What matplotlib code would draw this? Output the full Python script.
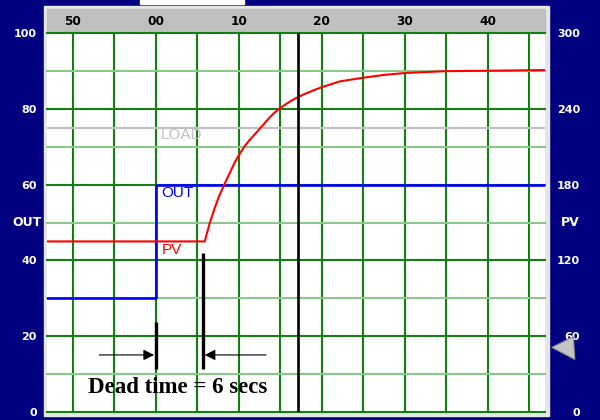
# Resposta ao degrau com tempo morto (tela de controlador)

import matplotlib
matplotlib.use("Agg")
import matplotlib.pyplot as plt
from matplotlib.patches import Rectangle, Polygon
from matplotlib.transforms import blended_transform_factory

# -----------------------------
# Dados
# -----------------------------

tempo_ticks = [-10, 0, 10, 20, 30, 40]
tempo_labels = ["50", "00", "10", "20", "30", "40"]

esq_ticks = [0, 20, 40, 60, 80, 100]
dir_ticks = [0, 60, 120, 180, 240, 300]

out_t = [-14, 0, 0, 47]
out_v = [30, 30, 60, 60]

pv_t = [-14, 5.9, 6.5, 7.1, 7.7, 8.3, 8.9, 9.5, 10.1, 10.7, 11.3, 11.9,
        12.5, 13.1, 13.7, 14.3, 14.9, 15.7, 16.5, 17.2, 18.2, 19.2, 20.2,
        21.2, 22.2, 25.1, 27.5, 30, 35, 40, 47]
pv_v = [45, 45, 49.8, 53.8, 57.3, 60.2, 63.0, 65.8, 68.1, 70.1, 71.8, 73.2,
        74.7, 76.2, 77.7, 79.0, 80.1, 81.3, 82.4, 83.2, 84.2, 85.1, 85.9,
        86.6, 87.3, 88.3, 89.0, 89.5, 90.0, 90.1, 90.3]

load_nivel = 75
cursor_t = 17.1
sp_pv = 51

morto_inicio = 0
morto_fim = 5.7

AZUL_ESCURO = "#000080"
VERDE = "#108010"
VERDE_CLARO = "#8cc88c"
CINZA = "#c0c0c0"


def fx(x):
    return x / 600


def fy(y):
    return 1 - y / 420


fig = plt.figure(figsize=(6, 4.2), dpi=100, facecolor=AZUL_ESCURO)

# moldura clara, faixa cinza do topo e marca branca
fig.add_artist(Rectangle((fx(44), fy(416)), fx(549) - fx(44), fy(6) - fy(416),
                         transform=fig.transFigure, color="#e6e6e6", zorder=-2))
fig.add_artist(Rectangle((fx(47), fy(33.3)), fx(545) - fx(47), fy(9) - fy(33.3),
                         transform=fig.transFigure, color=CINZA, zorder=-1))
fig.add_artist(Rectangle((fx(140), fy(4)), fx(244) - fx(140), fy(0) - fy(4),
                         transform=fig.transFigure, color="white", zorder=-1))

ax = fig.add_axes([fx(47), fy(411.7), fx(545) - fx(47), fy(33.3) - fy(411.7)])
ax.set_facecolor("white")
ax.set_xlim(-13.1, 46.9)
ax.set_ylim(0, 100)
for s in ax.spines.values():
    s.set_visible(False)

# -----------------------------
# Grade
# -----------------------------

for t in range(-10, 50, 5):
    ax.axvline(t, color=VERDE, lw=1.5, zorder=1)
for v in range(0, 101, 10):
    cor = VERDE if v % 20 == 0 else VERDE_CLARO
    ax.axhline(v, color=cor, lw=1.5, zorder=1, clip_on=False)

# -----------------------------
# Curvas
# -----------------------------

ax.axhline(load_nivel, color=CINZA, lw=1.6, zorder=2)
ax.plot(out_t, out_v, color="#0000ff", lw=1.9, zorder=3)
ax.plot(pv_t, pv_v, color="#ff0000", lw=1.5, zorder=4)
ax.axvline(cursor_t, color="black", lw=1.9, zorder=6)

ax.text(0.6, 73.1, "LOAD", color=CINZA, fontsize=11, family="Liberation Sans",
        va="center", ha="left", zorder=5)
ax.text(0.7, 57.9, "OUT", color="#0000ff", fontsize=11, family="Liberation Sans",
        va="center", ha="left", zorder=5)
ax.text(0.7, 42.7, "PV", color="#ff0000", fontsize=11, family="Liberation Sans",
        va="center", ha="left", zorder=5)

# -----------------------------
# Tempo morto
# -----------------------------

ax.vlines([morto_inicio], 11.2, 23.8, color="black", lw=2.4, zorder=7)
ax.vlines([morto_fim], 11.2, 42.0, color="black", lw=2.4, zorder=7)

seta = dict(arrowstyle="-|>", color="black", lw=0.8, mutation_scale=16,
            shrinkA=0, shrinkB=0)
ax.annotate("", xy=(morto_inicio - 0.2, 15), xytext=(-6.8, 15),
            arrowprops=seta, zorder=7)
ax.annotate("", xy=(morto_fim + 0.2, 15), xytext=(13.3, 15),
            arrowprops=seta, zorder=7)

ax.text(2.6, 6.3, "Dead time = 6 secs", fontsize=16.5, fontweight="bold",
        family="Liberation Serif", ha="center", va="center", zorder=8)

# -----------------------------
# Eixos
# -----------------------------

ax2 = ax.twinx()
ax2.set_ylim(0, 300)
for s in ax2.spines.values():
    s.set_visible(False)

ax.xaxis.tick_top()
ax.set_xticks(tempo_ticks, tempo_labels)
ax.tick_params(axis="x", length=0, pad=4, labelsize=8.7, labelcolor="black")
for lbl in ax.get_xticklabels():
    lbl.set_fontweight("bold")

ax.set_yticks(esq_ticks, [str(v) for v in esq_ticks])
ax.tick_params(axis="y", length=0, pad=7.2, labelsize=8, labelcolor="white")
for lbl in ax.get_yticklabels():
    lbl.set_fontweight("bold")

ax2.set_yticks(dir_ticks, [str(v) for v in dir_ticks])
ax2.tick_params(axis="y", length=0, pad=25.2, labelsize=8, labelcolor="white")
for lbl in ax2.get_yticklabels():
    lbl.set_fontweight("bold")
    lbl.set_horizontalalignment("right")

trans_esq = blended_transform_factory(ax.transAxes, ax.transData)
ax.text(-0.0106, 50, "OUT", transform=trans_esq, color="white", fontsize=9,
        fontweight="bold", ha="right", va="center")
trans_dir = blended_transform_factory(ax2.transAxes, ax2.transData)
ax2.text(1.0703, 150, "PV", transform=trans_dir, color="white", fontsize=9,
         fontweight="bold", ha="right", va="center")

# marcador triangular do lado direito
tri = Polygon([(1.0135, sp_pv), (1.057, sp_pv + 8.4), (1.060, sp_pv - 9.6)],
              closed=True, transform=trans_dir, facecolor="#c4c4c4",
              edgecolor="#8c8c8c", lw=0.8, clip_on=False, zorder=10)
ax2.add_patch(tri)

fig.savefig("out.png", dpi=100, facecolor=AZUL_ESCURO)
